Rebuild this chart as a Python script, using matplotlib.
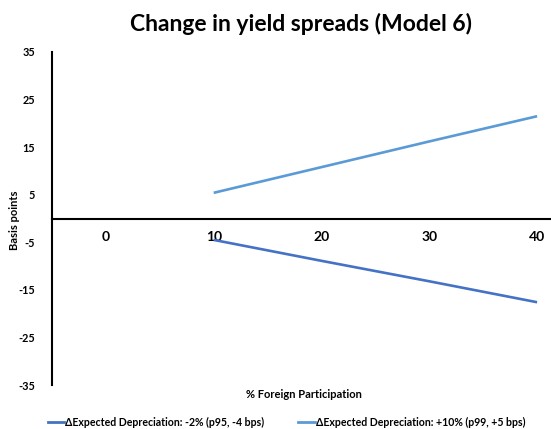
import matplotlib
matplotlib.use("Agg")
import matplotlib.pyplot as plt
from matplotlib.lines import Line2D

plt.rcParams['font.family'] = ['Lato', 'DejaVu Sans']
plt.rcParams['font.weight'] = 'bold'

categories = ["0", "10", "20", "30", "40"]
dep_minus2 = [None, -4.5, -8.9, -13.2, -17.6]
dep_plus10 = [None, 5.4, 10.8, 16.2, 21.5]
series_names = ["\u0394Expected Depreciation: -2% (p95, -4 bps)",
                "\u0394Expected Depreciation: +10% (p99, +5 bps)"]
y_ticks = [-35, -25, -15, -5, 5, 15, 25, 35]

dark_blue = '#4472C4'
light_blue = '#5B9BD5'

fig = plt.figure(figsize=(5.51, 4.29), dpi=100)
# the plot area runs past the right edge of the figure
ax = fig.add_axes([52 / 551, 44 / 429, 539 / 551, 333 / 429])

xs = list(range(len(categories)))
def pts(vals):
    return [x for x, v in zip(xs, vals) if v is not None], [v for v in vals if v is not None]

x1, y1 = pts(dep_minus2)
x2, y2 = pts(dep_plus10)
ax.plot(x1, y1, color=dark_blue, lw=1.9, solid_capstyle='butt')
ax.plot(x2, y2, color=light_blue, lw=1.9, solid_capstyle='butt')

ax.set_xlim(-0.5, 4.5)
ax.set_ylim(-35, 35)
ax.set_yticks(y_ticks)
ax.set_yticklabels([str(t) for t in y_ticks], fontsize=7.8, fontweight='bold')
ax.set_xticks(xs)
ax.set_xticklabels(categories, fontsize=7.5, fontweight='bold')
ax.tick_params(axis='both', length=0)
ax.tick_params(axis='y', pad=12)
ax.tick_params(axis='x', pad=9)

for s in ['top', 'right']:
    ax.spines[s].set_visible(False)
ax.spines['bottom'].set_position(('data', 0))
ax.spines['bottom'].set_linewidth(1.5)
ax.spines['left'].set_linewidth(1.5)

fig.text(301 / 551, 1 - 24 / 429, "Change in yield spreads (Model 6)",
         ha='center', va='center', fontsize=16.5, fontweight='bold')
fig.text(304 / 551, 1 - 395 / 429, "% Foreign Participation",
         ha='center', va='center', fontsize=8, fontweight='bold')
fig.text(14 / 551, 1 - 220 / 429, "Basis points", rotation=90,
         ha='center', va='center', fontsize=8, fontweight='bold')

handles = [Line2D([], [], color=dark_blue, lw=2),
           Line2D([], [], color=light_blue, lw=2)]
fig.legend(handles, series_names, loc='center left',
           bbox_to_anchor=(38 / 551, 1 - 422 / 429), ncol=2, frameon=False,
           handlelength=1.6, handletextpad=0.1, columnspacing=3.2,
           prop={'weight': 'bold', 'size': 7.6})

fig.savefig("out.png", dpi=100)
